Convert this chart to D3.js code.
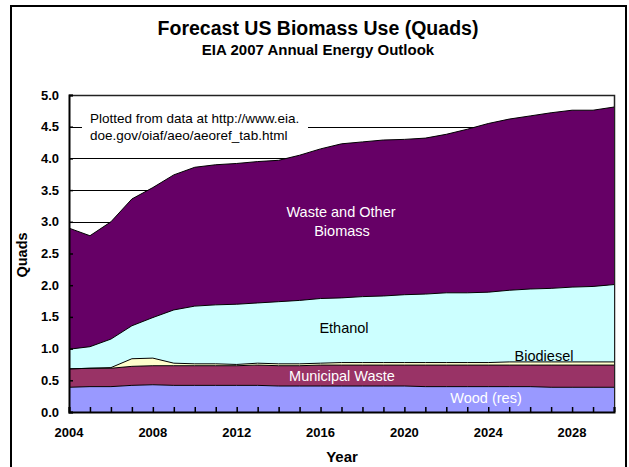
<!DOCTYPE html>
<html>
<head>
<meta charset="utf-8">
<script src="https://cdn.jsdelivr.net/npm/d3@7"></script>
<style>
  html, body { margin: 0; padding: 0; background: #fff; }
  svg { display: block; font-family: "Liberation Sans", Arial, sans-serif; }
</style>
</head>
<body>
<svg id="chart" width="629" height="467"></svg>
<script>
// Forecast US biomass use by source, quadrillion Btu (EIA AEO 2007 reference case)
const years = [2004, 2005, 2006, 2007, 2008, 2009, 2010, 2011, 2012, 2013, 2014, 2015, 2016, 2017,
               2018, 2019, 2020, 2021, 2022, 2023, 2024, 2025, 2026, 2027, 2028, 2029, 2030];
const wood = [0.39, 0.40, 0.40, 0.42, 0.43, 0.42, 0.42, 0.42, 0.42, 0.42, 0.41, 0.41, 0.41, 0.41,
              0.41, 0.41, 0.41, 0.40, 0.40, 0.40, 0.40, 0.40, 0.40, 0.39, 0.39, 0.39, 0.39];
const municipalWaste = [0.29, 0.29, 0.29, 0.30, 0.30, 0.31, 0.31, 0.31, 0.31, 0.32, 0.32, 0.32, 0.33, 0.33,
                        0.33, 0.33, 0.33, 0.34, 0.34, 0.34, 0.34, 0.34, 0.34, 0.35, 0.35, 0.35, 0.35];
const biodiesel = [0.00, 0.00, 0.01, 0.12, 0.12, 0.04, 0.03, 0.03, 0.02, 0.03, 0.03, 0.03, 0.03, 0.04,
                   0.04, 0.04, 0.04, 0.04, 0.04, 0.04, 0.04, 0.05, 0.05, 0.05, 0.05, 0.05, 0.05];
const ethanol = [0.31, 0.34, 0.45, 0.52, 0.64, 0.84, 0.91, 0.93, 0.95, 0.95, 0.98, 1.00, 1.02, 1.02,
                 1.04, 1.05, 1.07, 1.08, 1.10, 1.10, 1.11, 1.13, 1.15, 1.16, 1.18, 1.19, 1.22];
const wasteOther = [1.91, 1.75, 1.85, 2.00, 2.05, 2.13, 2.19, 2.21, 2.22, 2.23, 2.23, 2.29, 2.36, 2.43,
                    2.44, 2.46, 2.45, 2.46, 2.50, 2.58, 2.66, 2.70, 2.73, 2.77, 2.79, 2.78, 2.80];

const seriesKeys = ["wood", "msw", "biodiesel", "ethanol", "waste"];
const seriesColors = { wood: "#9999FF", msw: "#993366", biodiesel: "#FFFFCC", ethanol: "#CCFFFF", waste: "#660066" };
const yTicks = [0, 0.5, 1, 1.5, 2, 2.5, 3, 3.5, 4, 4.5, 5];
const xLabelYears = [2004, 2008, 2012, 2016, 2020, 2024, 2028];

const rows = years.map((yr, i) => ({
  year: yr, wood: wood[i], msw: municipalWaste[i], biodiesel: biodiesel[i],
  ethanol: ethanol[i], waste: wasteOther[i]
}));

const svg = d3.select("#chart");
const plotLeft = 69, plotRight = 614, plotTop = 95, plotBottom = 412;

const x = d3.scaleLinear().domain([2004, 2030]).range([plotLeft, plotRight]);
const y = d3.scaleLinear().domain([0, 5]).range([plotBottom, plotTop]);

// outer chart frame
svg.append("rect").attr("x", 11).attr("y", 6).attr("width", 615).attr("height", 475)
  .attr("fill", "#fff").attr("stroke", "#000").attr("stroke-width", 2);

// titles
svg.append("text").attr("x", 318).attr("y", 35).attr("text-anchor", "middle")
  .attr("font-size", 19.5).attr("font-weight", "bold").text("Forecast US Biomass Use (Quads)");
svg.append("text").attr("x", 318).attr("y", 55).attr("text-anchor", "middle")
  .attr("font-size", 15).attr("font-weight", "bold").text("EIA 2007 Annual Energy Outlook");

// gridlines
svg.append("g").selectAll("line").data(yTicks.filter(d => d > 0)).join("line")
  .attr("x1", plotLeft).attr("x2", plotRight)
  .attr("y1", d => Math.round(y(d)) + 0.5).attr("y2", d => Math.round(y(d)) + 0.5)
  .attr("stroke", "#000").attr("stroke-width", 1);

// plot frame (top and right edges)
svg.append("path")
  .attr("d", `M${plotLeft},${plotTop + 0.5}H${plotRight + 0.5}V${plotBottom}`)
  .attr("fill", "none").attr("stroke", "#222").attr("stroke-width", 1.5);

// stacked areas
const stacked = d3.stack().keys(seriesKeys)(rows);
const area = d3.area()
  .x(d => x(d.data.year))
  .y0(d => y(d[0]))
  .y1(d => y(d[1]));
const edge = d3.line().x(d => x(d.data.year)).y(d => y(d[1]));

svg.append("g").selectAll("path").data(stacked).join("path")
  .attr("d", area)
  .attr("fill", d => seriesColors[d.key]);
svg.append("g").selectAll("path").data(stacked).join("path")
  .attr("d", edge)
  .attr("fill", "none").attr("stroke", "#000").attr("stroke-width", 1);

// annotation box
const note = svg.append("g");
note.append("rect").attr("x", 82).attr("y", 106).attr("width", 226).attr("height", 40).attr("fill", "#fff");
note.append("text").attr("x", 90).attr("y", 123).attr("font-size", 13.5)
  .text("Plotted from data at http://www.eia.");
note.append("text").attr("x", 90).attr("y", 140).attr("font-size", 13.5)
  .text("doe.gov/oiaf/aeo/aeoref_tab.html");

// series labels
const labels = [
  { t: "Waste and Other", x: 341, y: 217, c: "#fff" },
  { t: "Biomass", x: 342, y: 236, c: "#fff" },
  { t: "Ethanol", x: 344, y: 333, c: "#000" },
  { t: "Biodiesel", x: 544, y: 361, c: "#000" },
  { t: "Municipal Waste", x: 342, y: 381, c: "#fff" },
  { t: "Wood (res)", x: 486, y: 403, c: "#fff" }
];
svg.append("g").selectAll("text").data(labels).join("text")
  .attr("x", d => d.x).attr("y", d => d.y).attr("text-anchor", "middle")
  .attr("font-size", 14.5).attr("fill", d => d.c).text(d => d.t);

// x axis: inward ticks every year, labels every fourth year
const xAxis = d3.axisBottom(x).tickValues(years).tickSize(-5).tickFormat("");
const gx = svg.append("g").attr("transform", `translate(0,${plotBottom})`).call(xAxis);
gx.select(".domain").attr("stroke", "#000").attr("stroke-width", 2);
gx.selectAll(".tick line").attr("stroke", "#000").attr("stroke-width", 1.5);
svg.append("g").selectAll("text").data(xLabelYears).join("text")
  .attr("x", d => x(d)).attr("y", 437).attr("text-anchor", "middle")
  .attr("font-size", 13).attr("font-weight", "bold").text(d => d);

// y axis: inward ticks
const yAxis = d3.axisLeft(y).tickValues(yTicks).tickSize(-4).tickFormat("");
const gy = svg.append("g").attr("transform", `translate(${plotLeft},0)`).call(yAxis);
gy.select(".domain").attr("stroke", "#000").attr("stroke-width", 2);
gy.selectAll(".tick line").attr("stroke", "#000").attr("stroke-width", 1.5);
svg.append("g").selectAll("text").data(yTicks).join("text")
  .attr("x", 59).attr("y", d => y(d) + 4.5).attr("text-anchor", "end")
  .attr("font-size", 13).attr("font-weight", "bold").text(d => d3.format(".1f")(d));

// axis titles
svg.append("text").attr("x", 342).attr("y", 462).attr("text-anchor", "middle")
  .attr("font-size", 15).attr("font-weight", "bold").text("Year");
svg.append("text").attr("transform", "translate(27,255) rotate(-90)").attr("text-anchor", "middle")
  .attr("font-size", 14.5).attr("font-weight", "bold").text("Quads");
</script>
</body>
</html>
